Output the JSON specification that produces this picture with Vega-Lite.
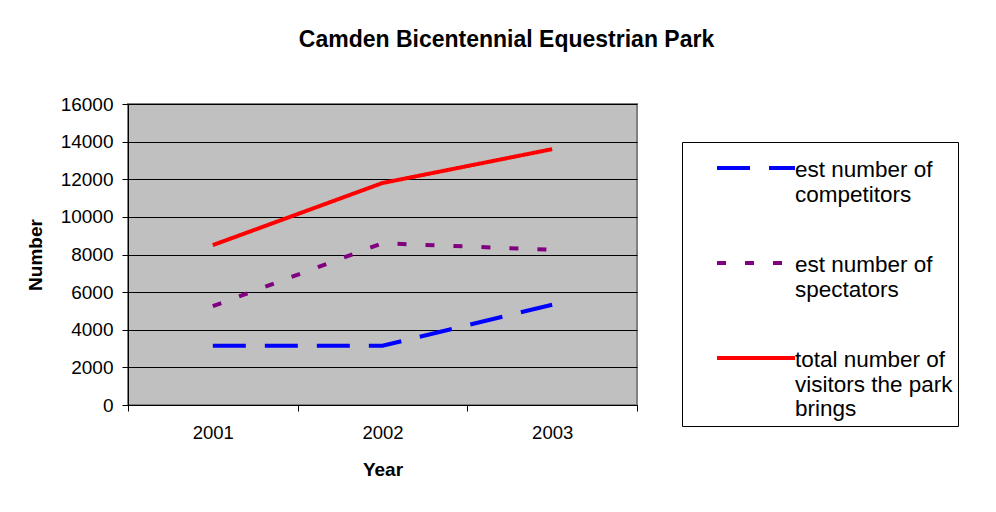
{
  "$schema": "https://vega.github.io/schema/vega-lite/v6.json",
  "autosize": {"type": "none"},
  "width": 509,
  "height": 301,
  "padding": {"left": 128, "top": 104, "right": 359, "bottom": 107},
  "background": "white",
  "title": {
    "text": "Camden Bicentennial Equestrian Park",
    "font": "Liberation Sans",
    "fontSize": 23,
    "fontWeight": "bold",
    "color": "black",
    "anchor": "middle",
    "frame": "group",
    "dx": 124,
    "offset": 43
  },
  "data": {
    "values": [
      {"Year": "2001", "Series": "est number of competitors", "Number": 3150},
      {"Year": "2002", "Series": "est number of competitors", "Number": 3150},
      {"Year": "2003", "Series": "est number of competitors", "Number": 5330},
      {"Year": "2001", "Series": "est number of spectators", "Number": 5250},
      {"Year": "2002", "Series": "est number of spectators", "Number": 8600},
      {"Year": "2003", "Series": "est number of spectators", "Number": 8250},
      {"Year": "2001", "Series": "total number of visitors the park brings", "Number": 8500},
      {"Year": "2002", "Series": "total number of visitors the park brings", "Number": 11800},
      {"Year": "2003", "Series": "total number of visitors the park brings", "Number": 13600}
    ]
  },
  "mark": {"type": "line", "strokeWidth": 4, "strokeCap": "butt"},
  "encoding": {
    "x": {
      "field": "Year",
      "type": "nominal",
      "scale": {"type": "band", "paddingInner": 0, "paddingOuter": 0},
      "axis": {
        "title": "Year",
        "labelAngle": 0,
        "tickBand": "extent",
        "grid": false,
        "domainColor": "black",
        "domainWidth": 1,
        "tickColor": "black",
        "tickSize": 6,
        "labelPadding": 12,
        "labelFont": "Liberation Sans",
        "labelFontSize": 18.5,
        "labelColor": "black",
        "titleFont": "Liberation Sans",
        "titleFontSize": 19,
        "titleFontWeight": "bold",
        "titleColor": "black",
        "titlePadding": 19
      }
    },
    "y": {
      "field": "Number",
      "type": "quantitative",
      "scale": {"domain": [0, 16000]},
      "axis": {
        "title": "Number",
        "values": [0, 2000, 4000, 6000, 8000, 10000, 12000, 14000, 16000],
        "format": "d",
        "grid": true,
        "gridColor": "black",
        "gridWidth": 1,
        "gridOpacity": 1,
        "domainColor": "black",
        "domainWidth": 1,
        "tickColor": "black",
        "tickSize": 6,
        "labelPadding": 9,
        "labelFont": "Liberation Sans",
        "labelFontSize": 19,
        "labelColor": "black",
        "titleFont": "Liberation Sans",
        "titleFontSize": 19,
        "titleFontWeight": "bold",
        "titleColor": "black",
        "titlePadding": 15
      }
    },
    "color": {
      "field": "Series",
      "type": "nominal",
      "scale": {
        "domain": ["est number of competitors", "est number of spectators", "total number of visitors the park brings"],
        "range": ["#0000ff", "#800080", "#ff0000"]
      },
      "legend": {
        "title": null,
        "orient": "none",
        "legendX": 554,
        "legendY": 38,
        "strokeColor": "black",
        "padding": 5,
        "symbolType": "M-4,0.92H4",
        "symbolSize": 380,
        "symbolStrokeWidth": 4,
        "symbolOffset": 57,
        "labelFont": "Liberation Sans",
        "labelFontSize": 22.5,
        "labelColor": "black",
        "labelOffset": 27,
        "labelBaseline": "top",
        "labelLimit": 400,
        "rowPadding": 36,
        "labelExpr": "datum.label == 'est number of competitors' ? ['est number of', 'competitors'] : datum.label == 'est number of spectators' ? ['est number of', 'spectators'] : ['total number of', 'visitors the park', 'brings']"
      }
    },
    "strokeDash": {
      "field": "Series",
      "type": "nominal",
      "scale": {
        "domain": ["est number of competitors", "est number of spectators", "total number of visitors the park brings"],
        "range": [[33, 19], [9, 19], [1, 0]]
      },
      "legend": null
    }
  },
  "config": {
    "view": {"fill": "#c0c0c0", "stroke": "#808080", "strokeWidth": 2}
  }
}
